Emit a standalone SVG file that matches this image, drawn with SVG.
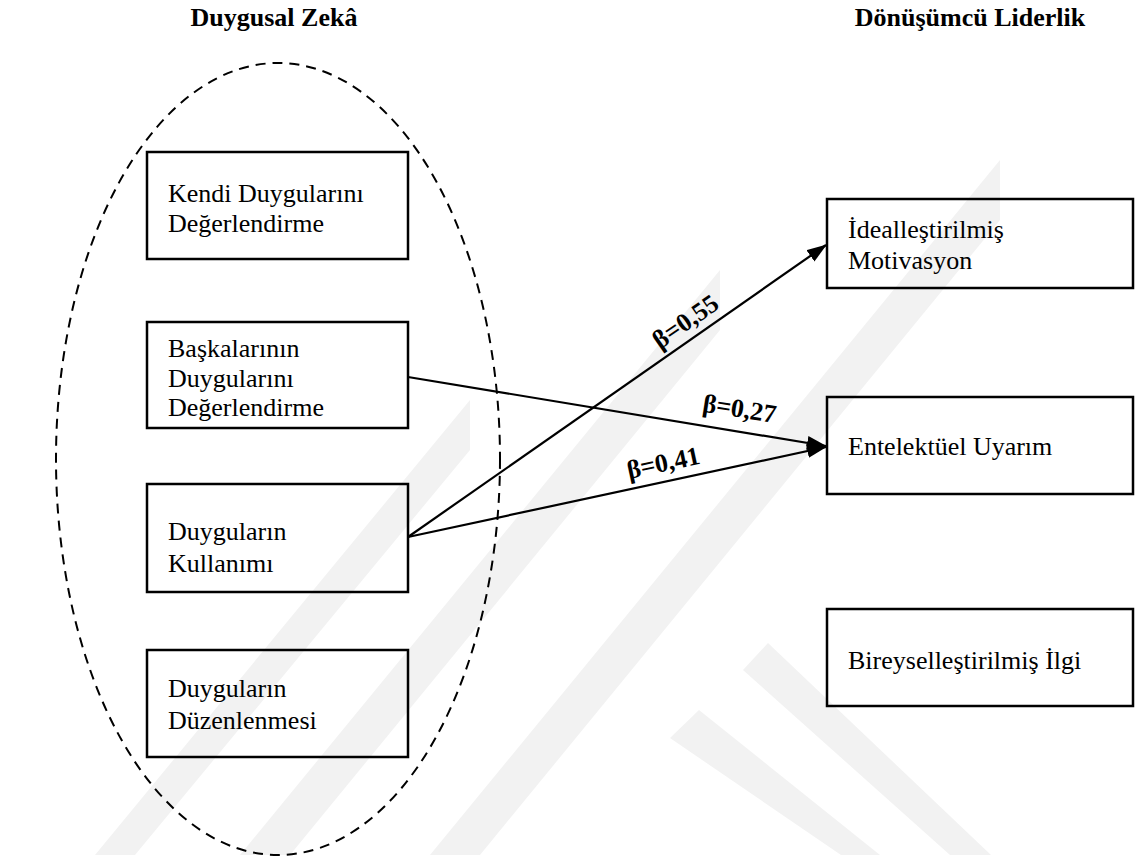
<svg xmlns="http://www.w3.org/2000/svg" width="1136" height="866" viewBox="0 0 1136 866">
<defs>
<style>
.box{fill:none;stroke:#000;stroke-width:2.5}
.t{font-family:"Liberation Serif","Times New Roman",serif;font-size:26px;fill:#000}
.title{font-family:"Liberation Serif","Times New Roman",serif;font-size:26px;font-weight:bold;fill:#000;text-anchor:middle}
.lbl{font-family:"Liberation Serif","Times New Roman",serif;font-size:26px;font-weight:bold;fill:#000;text-anchor:middle}
.conn{stroke:#000;stroke-width:2.2;fill:none;marker-end:url(#arr)}
.wm{fill:#f2f2f2}
.ell{fill:none;stroke:#000;stroke-width:2;stroke-dasharray:10 7}
</style>
<marker id="arr" viewBox="0 0 20 14" refX="19" refY="7" markerWidth="20" markerHeight="14" markerUnits="userSpaceOnUse" orient="auto">
<path d="M0,0 L20,7 L0,14 z" fill="#000"/>
</marker>
</defs>
<rect width="1136" height="866" fill="#fff"/>
<g id="watermark">
<polygon class="wm" points="95,855 135,855 470,450 470,400"/>
<polygon class="wm" points="240,855 290,855 720,330 720,270"/>
<polygon class="wm" points="430,855 480,855 1000,220 1000,160"/>
<polygon class="wm" points="670,738 699,710 880,855 841,855"/>
<polygon class="wm" points="743,670 768,643 991,855 950,855"/>
</g>
<ellipse id="group-ellipse" class="ell" cx="278" cy="459" rx="222" ry="396"/>
<text class="title" x="274" y="26">Duygusal Zekâ</text>
<text class="title" x="970" y="26">Dönüşümcü Liderlik</text>
<g id="n1"><rect class="box" x="147" y="152" width="261" height="107"/><text class="t" x="168" y="202">Kendi Duygularını</text><text class="t" x="168" y="232">Değerlendirme</text></g>
<g id="n2"><rect class="box" x="147" y="322" width="261" height="106"/><text class="t" x="168" y="357">Başkalarının</text><text class="t" x="168" y="386.5">Duygularını</text><text class="t" x="168" y="416">Değerlendirme</text></g>
<g id="n3"><rect class="box" x="147" y="484" width="261" height="108"/><text class="t" x="168" y="540">Duyguların</text><text class="t" x="168" y="571.5">Kullanımı</text></g>
<g id="n4"><rect class="box" x="147" y="650" width="261" height="107"/><text class="t" x="168" y="697">Duyguların</text><text class="t" x="168" y="729">Düzenlenmesi</text></g>
<g id="n5"><rect class="box" x="827" y="199" width="306" height="89"/><text class="t" x="848" y="238">İdealleştirilmiş</text><text class="t" x="848" y="269">Motivasyon</text></g>
<g id="n6"><rect class="box" x="827" y="397" width="306" height="97"/><text class="t" x="848" y="455">Entelektüel Uyarım</text></g>
<g id="n7"><rect class="box" x="827" y="609" width="306" height="97"/><text class="t" x="848" y="669">Bireyselleştirilmiş İlgi</text></g>
<g id="connectors">
<line class="conn" x1="408" y1="377" x2="826" y2="446"/>
<line class="conn" x1="408" y1="537" x2="826" y2="245"/>
<line class="conn" x1="408" y1="537" x2="826" y2="447"/>
<text class="lbl" transform="translate(695,335) rotate(-35)" y="-8">β=0,55</text>
<text class="lbl" transform="translate(736,431) rotate(9)" y="-14">β=0,27</text>
<text class="lbl" transform="translate(667,480) rotate(-12)" y="-9">β=0,41</text>
</g>
</svg>
